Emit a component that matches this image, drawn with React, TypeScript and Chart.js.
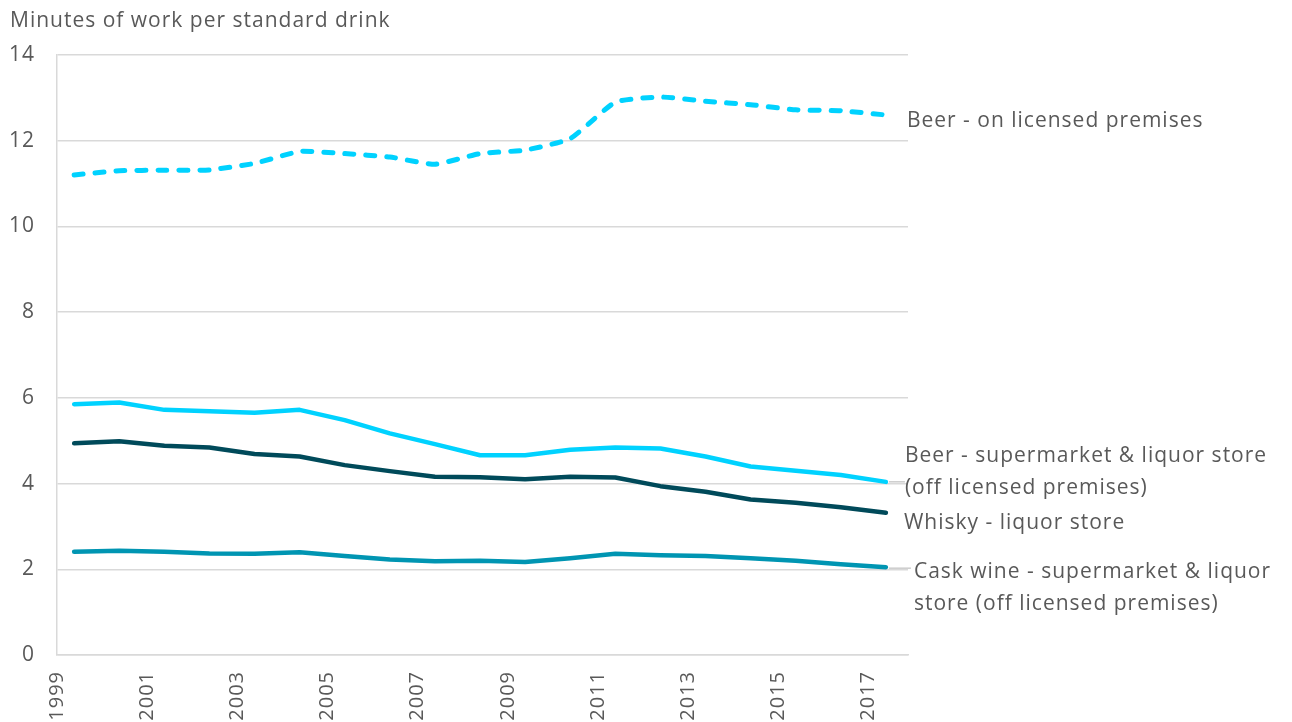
import { useEffect, useRef } from "react";
import { Chart, registerables } from "chart.js";

Chart.register(...registerables);

const FONT = "'Open Sans', sans-serif";
const FONT_SIZE = 21;
const TEXT_COLOR = "#595959";
const GRID_COLOR = "#D9D9D9";

const axisTitle = "Minutes of work per standard drink";

const years = [1999, 2000, 2001, 2002, 2003, 2004, 2005, 2006, 2007, 2008, 2009, 2010, 2011, 2012, 2013, 2014, 2015, 2016, 2017];
const tickYears = [1999, 2001, 2003, 2005, 2007, 2009, 2011, 2013, 2015, 2017];
const yTickValues = [0, 2, 4, 6, 8, 10, 12, 14];

// observations are taken part-way through each year
const surveyOffset = 0.38;

const beerOnPremises = [11.2, 11.3, 11.31, 11.32, 11.47, 11.75, 11.7, 11.62, 11.45, 11.7, 11.78, 12.05, 12.9, 13.02, 12.92, 12.84, 12.72, 12.7, 12.6];
const beerOffPremises = [5.85, 5.89, 5.72, 5.69, 5.65, 5.72, 5.48, 5.17, 4.92, 4.66, 4.66, 4.79, 4.84, 4.82, 4.63, 4.4, 4.3, 4.2, 4.04];
const whiskyLiquorStore = [4.94, 4.99, 4.88, 4.84, 4.69, 4.63, 4.43, 4.29, 4.16, 4.15, 4.1, 4.16, 4.14, 3.94, 3.81, 3.63, 3.55, 3.45, 3.32];
const caskWine = [2.41, 2.43, 2.41, 2.37, 2.36, 2.4, 2.31, 2.23, 2.19, 2.2, 2.17, 2.26, 2.36, 2.33, 2.31, 2.26, 2.2, 2.12, 2.05];

const seriesNames = [
  "Beer - on licensed premises",
  "Beer - supermarket & liquor store (off licensed premises)",
  "Whisky - liquor store",
  "Cask wine - supermarket & liquor store (off licensed premises)",
];

// end-of-line label layout (text lines, offsets from the last point)
const endLabels = [
  { lines: ["Beer - on licensed premises"], dx: 21, dy: [12], leader: null },
  { lines: ["Beer - supermarket & liquor store", "(off licensed premises)"], dx: 19, dy: [-20, 12], leader: { to: 19, dy: 0 } },
  { lines: ["Whisky - liquor store"], dx: 18, dy: [16], leader: null },
  { lines: ["Cask wine - supermarket & liquor", "store (off licensed premises)"], dx: 28, dy: [11, 43], leader: { to: 25, dy: 1 } },
];

const toPoints = (vals: number[]) => vals.map((v, i) => ({ x: years[i] + surveyOffset, y: v }));

const spacingPlugin = {
  id: "letterSpacing",
  beforeInit(chart: any) {
    (chart.ctx as any).letterSpacing = "1px";
  },
  beforeDraw(chart: any) {
    (chart.ctx as any).letterSpacing = "1px";
  },
};

const labelPlugin = {
  id: "endLabels",
  afterDatasetsDraw(chart: any) {
    const ctx = chart.ctx;
    ctx.save();
    ctx.letterSpacing = "1px";
    ctx.font = `${FONT_SIZE}px ${FONT}`;
    ctx.fillStyle = TEXT_COLOR;
    ctx.textAlign = "left";
    ctx.textBaseline = "alphabetic";
    ctx.fillText(axisTitle, 10, 27);

    chart.data.datasets.forEach((_: any, di: number) => {
      const cfg = endLabels[di];
      const meta = chart.getDatasetMeta(di);
      const last = meta.data[meta.data.length - 1];
      if (!last) return;
      const px = last.x;
      const py = last.y;
      if (cfg.leader) {
        ctx.strokeStyle = "#BFBFBF";
        ctx.lineWidth = 1.2;
        ctx.beginPath();
        ctx.moveTo(px + 3, py + cfg.leader.dy);
        ctx.lineTo(px + cfg.leader.to, py + cfg.leader.dy);
        ctx.stroke();
      }
      ctx.fillStyle = TEXT_COLOR;
      cfg.lines.forEach((t, li) => {
        ctx.fillText(t, px + cfg.dx, py + cfg.dy[li]);
      });
    });
    ctx.restore();
  },
};

export default function App() {
  const ref = useRef<HTMLCanvasElement | null>(null);

  useEffect(() => {
    if (!ref.current) return;
    const chart = new Chart(ref.current, {
      type: "line",
      data: {
        datasets: [
          {
            label: seriesNames[0],
            data: toPoints(beerOnPremises),
            borderColor: "#00D2FF",
            borderWidth: 5,
            borderDash: [9, 12],
            borderCapStyle: "round",
            tension: 0.15,
            pointRadius: 0,
          },
          {
            label: seriesNames[1],
            data: toPoints(beerOffPremises),
            borderColor: "#00D2FF",
            borderWidth: 4.5,
            borderCapStyle: "round",
            borderJoinStyle: "round",
            pointRadius: 0,
          },
          {
            label: seriesNames[2],
            data: toPoints(whiskyLiquorStore),
            borderColor: "#004A5A",
            borderWidth: 4.5,
            borderCapStyle: "round",
            borderJoinStyle: "round",
            pointRadius: 0,
          },
          {
            label: seriesNames[3],
            data: toPoints(caskWine),
            borderColor: "#0095B2",
            borderWidth: 4.5,
            borderCapStyle: "round",
            borderJoinStyle: "round",
            pointRadius: 0,
          },
        ],
      } as any,
      options: {
        responsive: false,
        animation: false,
        layout: { padding: { top: 55, right: 384, bottom: 0, left: 0 } },
        plugins: {
          legend: { display: false },
          tooltip: { enabled: false },
          title: { display: false },
        },
        scales: {
          x: {
            type: "linear",
            min: 1999,
            max: 2017.87,
            offset: false,
            afterBuildTicks: (s: any) => {
              s.ticks = tickYears.map((v) => ({ value: v }));
            },
            afterFit: (s: any) => {
              s.height = 67;
            },
            grid: { display: false, drawTicks: false },
            border: { display: true, color: GRID_COLOR, width: 1.5 },
            ticks: {
              autoSkip: false,
              minRotation: 90,
              maxRotation: 90,
              padding: 16,
              color: TEXT_COLOR,
              font: { family: FONT, size: 20 },
              callback: (v: any) => String(v),
            },
          },
          y: {
            min: 0,
            max: 14,
            afterBuildTicks: (s: any) => {
              s.ticks = yTickValues.map((v) => ({ value: v }));
            },
            afterFit: (s: any) => {
              s.width = 57;
            },
            grid: { color: GRID_COLOR, lineWidth: 1.5, drawTicks: false },
            border: { display: true, color: GRID_COLOR, width: 1.5 },
            ticks: {
              padding: 22,
              color: TEXT_COLOR,
              font: { family: FONT, size: FONT_SIZE },
            },
          },
        },
      } as any,
      plugins: [spacingPlugin, labelPlugin],
    });
    return () => chart.destroy();
  }, []);

  return (
    <div style={{ position: "absolute", left: 0, top: 0, width: 1292, height: 722, background: "#fff" }}>
      <canvas ref={ref} width={1292} height={722} style={{ display: "block" }} />
    </div>
  );
}
